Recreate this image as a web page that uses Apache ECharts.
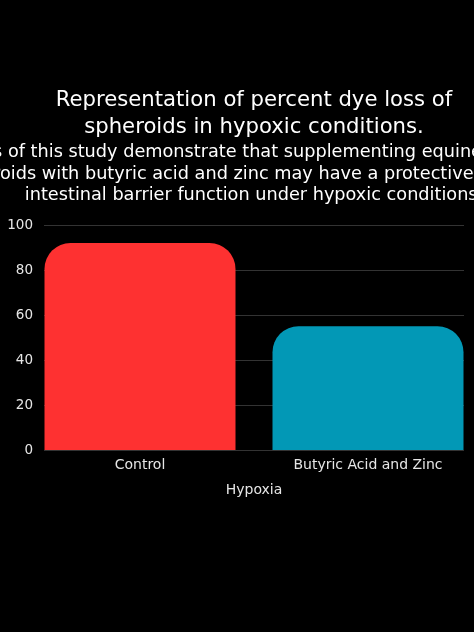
<!DOCTYPE html>
<html>
<head>
<meta charset="utf-8">
<script src="https://cdn.jsdelivr.net/npm/echarts@6/dist/echarts.min.js"></script>
<style>
html,body{margin:0;padding:0;background:#000;}
#chart{width:474px;height:632px;}
</style>
</head>
<body>
<div id="chart"></div>
<script>
const categories = ['Control', 'Butyric Acid and Zinc'];
const values = [92, 55];
const yTicks = [0, 20, 40, 60, 80, 100];
const titleText = 'Representation of percent dye loss of\nspheroids in hypoxic conditions.';
const subtitleText = 'Results of this study demonstrate that supplementing equine intestinal\nspheroids with butyric acid and zinc may have a protective effect on\nintestinal barrier function under hypoxic conditions.';
const xName = 'Hypoxia';

const barColors = ['#FE3131', '#0298B6'];
const FONT = '"DejaVu Sans", sans-serif';
const chart = echarts.init(document.getElementById('chart'));
chart.setOption({
  backgroundColor: '#000',
  animation: false,
  graphic: [
    { type: 'text', x: 254, y: 87, style: { text: titleText, fill: '#fff', font: '21.2px ' + FONT, textAlign: 'center', textVerticalAlign: 'top', lineHeight: 27 } },
    { type: 'text', x: 254, y: 142, style: { text: subtitleText, fill: '#fff', font: '17.7px ' + FONT, textAlign: 'center', textVerticalAlign: 'top', lineHeight: 21.3 } }
  ],
  grid: [
    { left: 26, width: 456, top: 225, bottom: 182, outerBoundsMode: 'none', containLabel: false },
    { left: 44, width: 420, top: 225, bottom: 182, outerBoundsMode: 'none', containLabel: false }
  ],
  xAxis: [
    { gridIndex: 0, type: 'category', data: categories,
      axisLine: { show: false }, axisTick: { show: false },
      axisLabel: { color: '#e6e6e6', fontSize: 14, fontFamily: FONT, margin: 8 },
      name: xName, nameLocation: 'middle', nameGap: 33,
      nameTextStyle: { color: '#e6e6e6', fontSize: 14, fontFamily: FONT } },
    { gridIndex: 1, type: 'value', show: false, min: 0, max: 1 }
  ],
  yAxis: [
    { gridIndex: 0, type: 'value', min: 0, max: 100, interval: 20, show: false },
    { gridIndex: 1, type: 'value', min: yTicks[0], max: yTicks[yTicks.length - 1], interval: 20,
      axisLine: { show: false }, axisTick: { show: false },
      axisLabel: { color: '#e6e6e6', fontSize: 13.5, fontFamily: FONT, margin: 11 },
      splitLine: { lineStyle: { color: '#333', width: 1 } } }
  ],
  series: [{
    type: 'bar', xAxisIndex: 0, yAxisIndex: 0,
    barWidth: 191,
    data: values.map((v, i) => ({ value: v, itemStyle: { color: barColors[i], borderRadius: [26, 26, 0, 0] } }))
  }]
});
</script>
</body>
</html>
